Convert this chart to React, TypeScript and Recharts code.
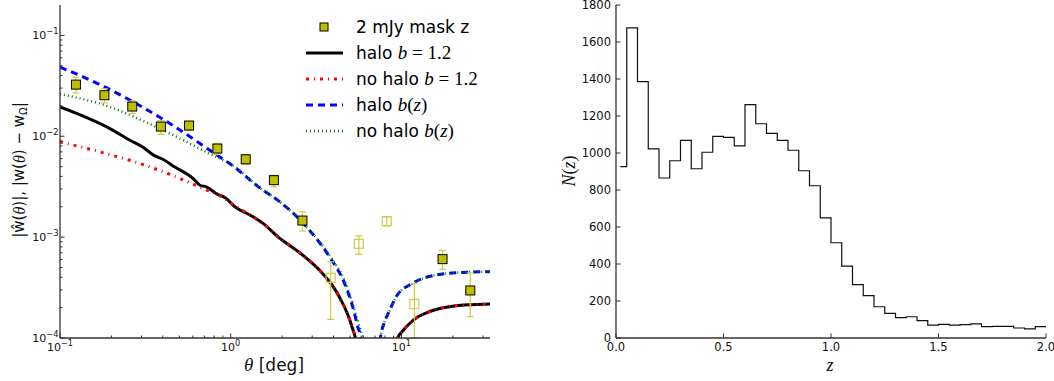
import {
  ComposedChart,
  LineChart,
  Line,
  Scatter,
  ErrorBar,
  XAxis,
  YAxis,
  Legend,
  Label,
} from 'recharts';

const SANS = 'DejaVu Sans, sans-serif';
const MATH = 'Liberation Serif, DejaVu Serif, serif';
const AXIS = '#333';

// ---------- left panel: |w(theta)| ----------
// measured points (positive values, filled squares)
const posTheta = [0.124, 0.182, 0.265, 0.39, 0.57, 0.835, 1.224, 1.79, 2.63, 17.4, 25.3];
const posW = [0.0325, 0.0255, 0.0197, 0.01247, 0.01277, 0.00755, 0.00591, 0.00367, 0.00146, 0.000605, 0.000296];
const posLo = [0.0269, 0.0214, 0.0168, 0.01047, 0.01146, 0.00659, 0.00525, 0.00315, 0.00115, 0.000479, 0.000163];
const posHi = [0.0386, 0.0296, 0.0224, 0.01428, 0.01387, 0.00847, 0.00659, 0.00411, 0.00178, 0.000738, 0.000443];

// negative values shown as |w| (open squares)
const negTheta = [3.85, 5.63, 8.2, 11.9];
const negW = [0.000395, 0.000859, 0.00144, 0.000217];
const negLo = [0.000153, 0.000675, 0.00129, 0.0001];
const negHi = [0.000569, 0.00103, 0.00159, 0.000348];

// model curves (null = gap at the zero crossing)
const haloB12Theta = [0.1, 0.196, 0.257, 0.3, 0.36, 0.4, 0.47, 0.603, 0.66, 0.72, 0.82, 0.94, 1.03, 1.35, 1.545, 1.9, 2.42, 2.9, 3.45, 3.9, 4.33, 4.98, 5.2, 5.37, 5.5,
  7.0, 9.3, 9.5, 10.1, 11.2, 12.5, 14.5, 17, 20.8, 26, 33];
const haloB12W = [0.0195, 0.0119, 0.00912, 0.00796, 0.00638, 0.00591, 0.00496, 0.00381, 0.00327, 0.00315, 0.00271, 0.00242, 0.00208, 0.00159, 0.00137, 0.001, 0.000743, 0.00058, 0.000436, 0.00034, 0.000255, 0.000151, 0.00012, 0.0001, 0.00007,
  null, 0.00007, 0.0001, 0.000116, 0.00014, 0.000162, 0.000182, 0.000197, 0.000209, 0.000214, 0.000217];

const noHaloB12Theta = [0.1, 0.171, 0.293, 0.48, 0.69, 0.86, 1.03, 1.35, 1.545, 1.9, 2.42, 2.9, 3.45, 3.9, 4.33, 4.98, 5.2, 5.37, 5.5,
  7.0, 9.3, 9.5, 10.1, 11.2, 12.5, 14.5, 17, 20.8, 26, 33];
const noHaloB12W = [0.0088, 0.007, 0.00537, 0.00395, 0.00303, 0.00258, 0.0021, 0.00159, 0.00137, 0.001, 0.000743, 0.00058, 0.000436, 0.00034, 0.000255, 0.000151, 0.00012, 0.0001, 0.00007,
  null, 0.00007, 0.0001, 0.000116, 0.00014, 0.000162, 0.000182, 0.000197, 0.000209, 0.000214, 0.000217];

const haloBzTheta = [0.1, 0.183, 0.41, 0.862, 0.985, 1.545, 1.77, 2.78, 3.79, 4.64, 5.18, 5.55, 5.8, 5.95,
  6.8, 7.35, 7.53, 7.9, 8.36, 9.32, 11.6, 15.9, 22.5, 33];
const haloBzW = [0.0485, 0.0308, 0.0144, 0.00624, 0.00537, 0.00292, 0.00251, 0.00126, 0.000638, 0.000348, 0.000204, 0.000129, 0.0001, 0.00007,
  null, 0.00007, 0.0001, 0.00014, 0.000175, 0.000257, 0.000348, 0.000421, 0.000447, 0.000454];

const noHaloBzTheta = [0.1, 0.183, 0.384, 0.82, 0.985, 1.545, 1.77, 2.78, 3.79, 4.64, 5.18, 5.6, 5.9, 6.05,
  6.8, 7.35, 7.53, 7.9, 8.36, 9.32, 11.6, 15.9, 22.5, 33];
const noHaloBzW = [0.0262, 0.0203, 0.0119, 0.00624, 0.00537, 0.00292, 0.00251, 0.00126, 0.00066, 0.00037, 0.00022, 0.00014, 0.0001, 0.00007,
  null, 0.00007, 0.0001, 0.00014, 0.000175, 0.000257, 0.000348, 0.000421, 0.000447, 0.000454];

// ticks
const mult = [2, 3, 4, 5, 6, 7, 8, 9];
const thetaMajor = [0.1, 1, 10];
const thetaExp = ['\u22121', '0', '1'];
const thetaTicks = [...thetaMajor, ...mult.map((m) => m * 0.1), ...mult, 20, 30];
const wMajor = [0.0001, 0.001, 0.01, 0.1];
const wExp = ['\u22124', '\u22123', '\u22122', '\u22121'];
const wTicks = [...wMajor, ...mult.map((m) => m * 0.0001), ...mult.map((m) => m * 0.001), ...mult.map((m) => m * 0.01)];

// ---------- right panel: N(z) ----------
const zBinStart = [0.02, 0.05, 0.1, 0.15, 0.2, 0.25, 0.3, 0.35, 0.4, 0.45, 0.5, 0.55, 0.6, 0.65, 0.7, 0.75, 0.8, 0.85, 0.9, 0.95,
  1.0, 1.05, 1.1, 1.15, 1.2, 1.25, 1.3, 1.35, 1.4, 1.45, 1.5, 1.55, 1.6, 1.65, 1.7, 1.75, 1.8, 1.85, 1.9, 1.95];
const zCounts = [926, 1676, 1386, 1022, 865, 958, 1068, 915, 1004, 1090, 1085, 1038, 1261, 1158, 1106, 1068, 1015, 904, 823, 649,
  515, 389, 288, 229, 169, 133, 110, 115, 94, 70, 74, 70, 72, 76, 61, 63, 63, 54, 49, 61];
const zEnd = 2.0;
const zTicks = [0, 0.5, 1, 1.5, 2];
const zTickLabels = ['0.0', '0.5', '1.0', '1.5', '2.0'];
const nTicks = [0, 200, 400, 600, 800, 1000, 1200, 1400, 1600, 1800];
const nTickLabels = nTicks.map(String);

const toRows = (ts: number[], vs: (number | null)[]) => ts.map((t, i) => ({ t, v: vs[i] }));
const toPoints = (ts: number[], vs: number[], lo: number[], hi: number[]) =>
  ts.map((t, i) => ({ t, v: vs[i], err: [vs[i] - lo[i], hi[i] - vs[i]] }));

const posRows = toPoints(posTheta, posW, posLo, posHi);
const negRows = toPoints(negTheta, negW, negLo, negHi);
const histRows = [
  ...zBinStart.map((z, i) => ({ z, n: zCounts[i] })),
  { z: zEnd, n: zCounts[zCounts.length - 1] },
];

const styles = {
  haloB12: { stroke: '#000000', strokeWidth: 3, dash: undefined as string | undefined },
  noHaloB12: { stroke: '#ff0000', strokeWidth: 3, dash: '3 5 1 5' },
  haloBz: { stroke: '#0000ff', strokeWidth: 3, dash: '7 5' },
  noHaloBz: { stroke: '#008000', strokeWidth: 2.5, dash: '1 3' },
};
const POINT_FILL = '#bfbf00';
const ERR_COLOR = '#cccc45';

type Side = 'bottom' | 'top' | 'left' | 'right';

function makeTick(side: Side, majors: number[], labels: string[] | null, power: boolean, fontSize: number, gap: number) {
  return function Tick(props: any) {
    const { x, y, payload } = props;
    const v = Number(payload.value);
    const idx = majors.findIndex((m) => Math.abs(m - v) <= Math.abs(m) * 1e-6 + 1e-12);
    const len = idx >= 0 ? 4.5 : 2.5;
    const dx = side === 'left' ? len : side === 'right' ? -len : 0;
    const dy = side === 'bottom' ? -len : side === 'top' ? len : 0;
    let text = null;
    if (labels && idx >= 0) {
      const content = power ? (
        <>
          10<tspan dy={-5} fontSize={fontSize * 0.75}>{labels[idx]}</tspan>
        </>
      ) : (
        labels[idx]
      );
      if (side === 'bottom') {
        text = (
          <text x={x} y={y + gap} textAnchor="middle" fontSize={fontSize} fontFamily={SANS} fill="#111">
            {content}
          </text>
        );
      } else if (side === 'left') {
        text = (
          <text x={x - gap} y={y + 4} textAnchor="end" fontSize={fontSize} fontFamily={SANS} fill="#111">
            {content}
          </text>
        );
      }
    }
    return (
      <g>
        <line x1={x} y1={y} x2={x + dx} y2={y + dy} stroke={AXIS} strokeWidth={1} />
        {text}
      </g>
    );
  };
}

const axisLine = { stroke: AXIS, strokeWidth: 1.3 };

function Square(props: any) {
  const { cx, cy } = props;
  return <rect x={cx - 4.5} y={cy - 4.5} width={9} height={9} fill={POINT_FILL} stroke="#000" strokeWidth={1} />;
}

function OpenSquare(props: any) {
  const { cx, cy } = props;
  return <rect x={cx - 4.5} y={cy - 4.5} width={9} height={9} fill="none" stroke={ERR_COLOR} strokeWidth={1.2} />;
}

function Sample({ s }: { s: { stroke: string; strokeWidth: number; dash?: string } }) {
  return (
    <svg width={40} height={26}>
      <line x1={2} y1={13} x2={39} y2={13} stroke={s.stroke} strokeWidth={s.strokeWidth} strokeDasharray={s.dash} />
    </svg>
  );
}

const mathStyle = { fontFamily: MATH, fontSize: 19 };

function LegendBox() {
  const row = { display: 'flex', alignItems: 'center', height: 26 } as const;
  const txt = { marginLeft: 12, whiteSpace: 'nowrap' } as const;
  return (
    <div style={{ fontFamily: SANS, fontSize: 17, color: '#000' }}>
      <div style={row}>
        <svg width={40} height={26}>
          <rect x={16} y={9} width={8} height={8} fill={POINT_FILL} stroke="#000" strokeWidth={1} />
        </svg>
        <span style={txt}>2 mJy mask z</span>
      </div>
      <div style={row}>
        <Sample s={styles.haloB12} />
        <span style={txt}>
          halo <span style={mathStyle}><i>b</i> = 1.2</span>
        </span>
      </div>
      <div style={row}>
        <Sample s={styles.noHaloB12} />
        <span style={txt}>
          no halo <span style={mathStyle}><i>b</i> = 1.2</span>
        </span>
      </div>
      <div style={row}>
        <Sample s={styles.haloBz} />
        <span style={txt}>
          halo <span style={mathStyle}><i>b</i>(<i>z</i>)</span>
        </span>
      </div>
      <div style={row}>
        <Sample s={styles.noHaloBz} />
        <span style={txt}>
          no halo <span style={mathStyle}><i>b</i>(<i>z</i>)</span>
        </span>
      </div>
    </div>
  );
}

const ThetaLabel = () => (
  <text x={274} y={371} textAnchor="middle" fontSize={17} fontFamily={SANS} fill="#111">
    <tspan fontFamily={MATH} fontStyle="italic" fontSize={19}>θ</tspan> [deg]
  </text>
);

const WLabel = () => (
  <text
    transform="rotate(-90 19 170)"
    x={19}
    y={170}
    textAnchor="middle"
    dominantBaseline="central"
    fontSize={15}
    fontFamily={SANS}
    fill="#111"
  >
    |ŵ(<tspan fontFamily={MATH} fontStyle="italic" fontSize={16}>θ</tspan>)|, |w(
    <tspan fontFamily={MATH} fontStyle="italic" fontSize={16}>θ</tspan>) − w
    <tspan dy={4} fontSize={10}>Ω</tspan>
    <tspan dy={-4}>|</tspan>
  </text>
);

const NLabel = () => (
  <text
    transform="rotate(-90 29 171)"
    x={29}
    y={171}
    textAnchor="middle"
    dominantBaseline="central"
    fontSize={18}
    fontFamily={MATH}
    fill="#111"
  >
    <tspan fontStyle="italic">N</tspan>(<tspan fontStyle="italic">z</tspan>)
  </text>
);

const ZLabel = () => (
  <text x={290} y={371} textAnchor="middle" fontSize={18} fontFamily={MATH} fontStyle="italic" fill="#111">
    z
  </text>
);

function CorrelationPanel() {
  return (
    <ComposedChart width={540} height={381} margin={{ top: 5, right: 50, bottom: 8, left: 10 }}>
      <XAxis
        dataKey="t"
        type="number"
        scale="log"
        domain={[0.1, 33]}
        allowDataOverflow
        ticks={thetaTicks}
        interval={0}
        tickSize={0}
        tickMargin={0}
        tickLine={false}
        axisLine={axisLine}
        height={35}
        tick={makeTick('bottom', thetaMajor, thetaExp, true, 11, 13)}
      >
        <Label content={ThetaLabel} />
      </XAxis>
      <XAxis
        xAxisId="top"
        orientation="top"
        dataKey="t"
        type="number"
        scale="log"
        domain={[0.1, 33]}
        allowDataOverflow
        ticks={thetaTicks}
        interval={0}
        tickSize={0}
        tickMargin={0}
        tickLine={false}
        axisLine={axisLine}
        height={0}
        tick={makeTick('top', thetaMajor, null, false, 11, 0)}
      />
      <YAxis
        dataKey="v"
        type="number"
        scale="log"
        domain={[0.0001, 0.2]}
        allowDataOverflow
        ticks={wTicks}
        interval={0}
        tickSize={0}
        tickMargin={0}
        tickLine={false}
        axisLine={axisLine}
        width={50}
        tick={makeTick('left', wMajor, wExp, true, 11, 1.5)}
      >
        <Label content={WLabel} />
      </YAxis>
      <YAxis
        yAxisId="right"
        orientation="right"
        type="number"
        scale="log"
        domain={[0.0001, 0.2]}
        allowDataOverflow
        ticks={wTicks}
        interval={0}
        tickSize={0}
        tickMargin={0}
        tickLine={false}
        axisLine={axisLine}
        width={0}
        tick={makeTick('right', wMajor, null, false, 11, 0)}
      />
      <Line
        data={toRows(haloB12Theta, haloB12W)}
        dataKey="v"
        type="monotone"
        stroke={styles.haloB12.stroke}
        strokeWidth={styles.haloB12.strokeWidth}
        dot={false}
        isAnimationActive={false}
      />
      <Line
        data={toRows(noHaloB12Theta, noHaloB12W)}
        dataKey="v"
        type="monotone"
        stroke={styles.noHaloB12.stroke}
        strokeWidth={styles.noHaloB12.strokeWidth}
        strokeDasharray={styles.noHaloB12.dash}
        dot={false}
        isAnimationActive={false}
      />
      <Line
        data={toRows(haloBzTheta, haloBzW)}
        dataKey="v"
        type="monotone"
        stroke={styles.haloBz.stroke}
        strokeWidth={styles.haloBz.strokeWidth}
        strokeDasharray={styles.haloBz.dash}
        dot={false}
        isAnimationActive={false}
      />
      <Line
        data={toRows(noHaloBzTheta, noHaloBzW)}
        dataKey="v"
        type="monotone"
        stroke={styles.noHaloBz.stroke}
        strokeWidth={styles.noHaloBz.strokeWidth}
        strokeDasharray={styles.noHaloBz.dash}
        dot={false}
        isAnimationActive={false}
      />
      <Scatter data={negRows} dataKey="v" shape={OpenSquare} isAnimationActive={false}>
        <ErrorBar dataKey="err" direction="y" width={3.5} stroke={ERR_COLOR} strokeWidth={1.2} />
      </Scatter>
      <Scatter data={posRows} dataKey="v" shape={Square} isAnimationActive={false}>
        <ErrorBar dataKey="err" direction="y" width={3.5} stroke={ERR_COLOR} strokeWidth={1.2} />
      </Scatter>
      <Legend
        layout="horizontal"
        verticalAlign="middle"
        align="center"
        wrapperStyle={{ top: 14, left: 304, width: 230, height: 132 }}
        content={LegendBox}
      />
    </ComposedChart>
  );
}

function RedshiftPanel() {
  return (
    <LineChart width={514} height={381} data={histRows} margin={{ top: 5, right: 8, bottom: 8, left: 16 }}>
      <XAxis
        dataKey="z"
        type="number"
        domain={[0, 2]}
        allowDataOverflow
        ticks={zTicks}
        interval={0}
        tickSize={0}
        tickMargin={0}
        tickLine={false}
        axisLine={axisLine}
        height={35}
        tick={makeTick('bottom', zTicks, zTickLabels, false, 11.5, 12.5)}
      >
        <Label content={ZLabel} />
      </XAxis>
      <XAxis
        xAxisId="top"
        orientation="top"
        dataKey="z"
        type="number"
        domain={[0, 2]}
        allowDataOverflow
        ticks={zTicks}
        interval={0}
        tickSize={0}
        tickMargin={0}
        tickLine={false}
        axisLine={axisLine}
        height={0}
        tick={makeTick('top', zTicks, null, false, 11.5, 0)}
      />
      <YAxis
        type="number"
        domain={[0, 1800]}
        allowDataOverflow
        ticks={nTicks}
        interval={0}
        tickSize={0}
        tickMargin={0}
        tickLine={false}
        axisLine={axisLine}
        width={60}
        tick={makeTick('left', nTicks, nTickLabels, false, 11.5, 5)}
      >
        <Label content={NLabel} />
      </YAxis>
      <YAxis
        yAxisId="right"
        orientation="right"
        type="number"
        domain={[0, 1800]}
        allowDataOverflow
        ticks={nTicks}
        interval={0}
        tickSize={0}
        tickMargin={0}
        tickLine={false}
        axisLine={axisLine}
        width={0}
        tick={makeTick('right', nTicks, null, false, 11.5, 0)}
      />
      <Line
        dataKey="n"
        type="stepAfter"
        stroke="#111"
        strokeWidth={1.2}
        dot={false}
        isAnimationActive={false}
      />
    </LineChart>
  );
}

export default function App() {
  return (
    <div style={{ position: 'absolute', left: 0, top: 0, width: 1054, height: 381, background: '#fff' }}>
      <div style={{ position: 'absolute', left: 0, top: 0 }}>
        <CorrelationPanel />
      </div>
      <div style={{ position: 'absolute', left: 540, top: 0 }}>
        <RedshiftPanel />
      </div>
    </div>
  );
}
